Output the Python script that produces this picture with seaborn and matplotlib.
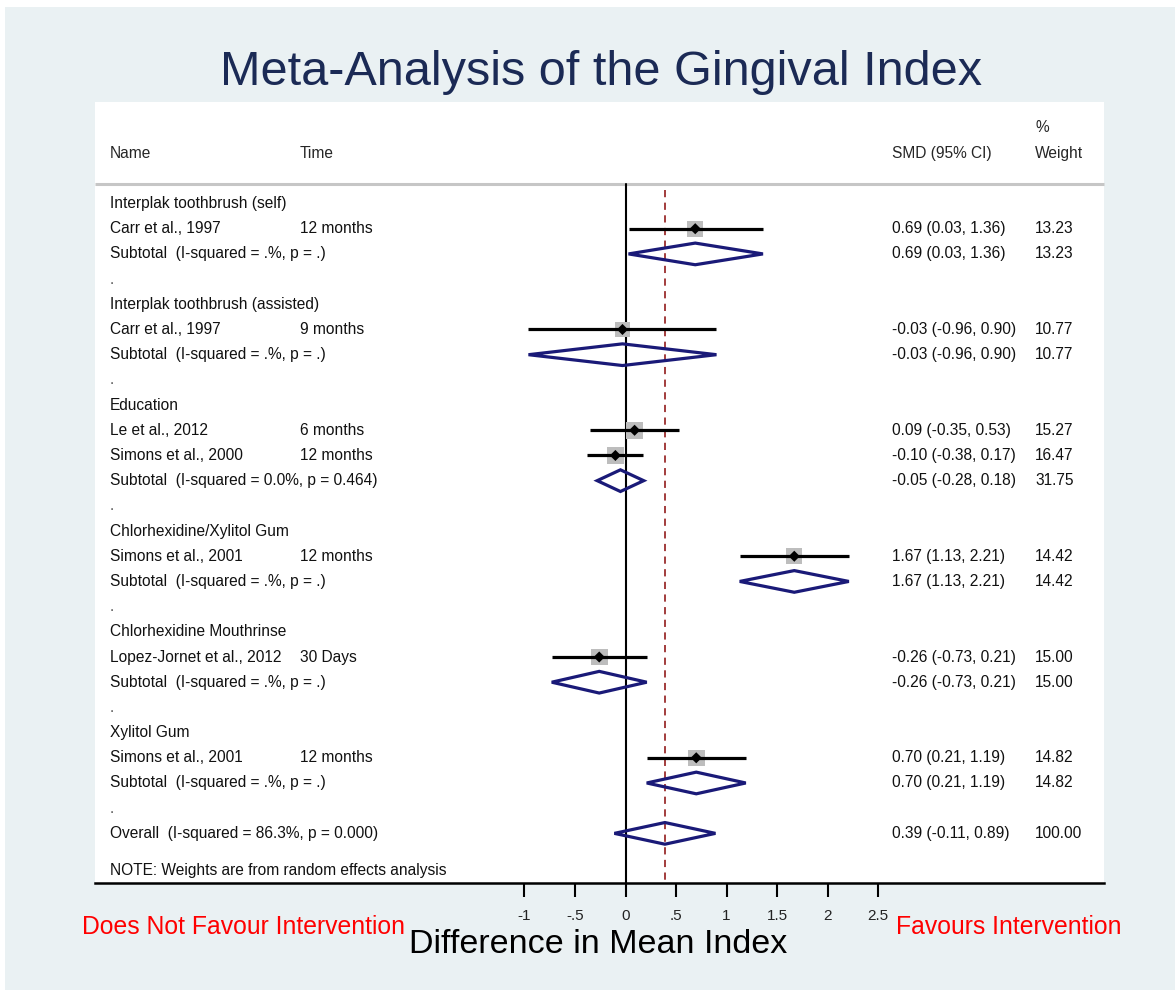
import numpy as np
import pandas as pd
import matplotlib
matplotlib.use("Agg")
import matplotlib.pyplot as plt
import seaborn as sns
from matplotlib.patches import Polygon, Rectangle

nan = np.nan

# ---------------- data ----------------
row_names = [
    "Interplak toothbrush (self)", "Carr et al., 1997", "Subtotal  (I-squared = .%, p = .)", ".",
    "Interplak toothbrush (assisted)", "Carr et al., 1997", "Subtotal  (I-squared = .%, p = .)", ".",
    "Education", "Le et al., 2012", "Simons et al., 2000", "Subtotal  (I-squared = 0.0%, p = 0.464)", ".",
    "Chlorhexidine/Xylitol Gum", "Simons et al., 2001", "Subtotal  (I-squared = .%, p = .)", ".",
    "Chlorhexidine Mouthrinse", "Lopez-Jornet et al., 2012", "Subtotal  (I-squared = .%, p = .)", ".",
    "Xylitol Gum", "Simons et al., 2001", "Subtotal  (I-squared = .%, p = .)", ".",
    "Overall  (I-squared = 86.3%, p = 0.000)",
]
row_times = [
    "", "12 months", "", "",
    "", "9 months", "", "",
    "", "6 months", "12 months", "", "",
    "", "12 months", "", "",
    "", "30 Days", "", "",
    "", "12 months", "", "",
    "",
]
row_kinds = [
    "group", "study", "subtotal", "spacer",
    "group", "study", "subtotal", "spacer",
    "group", "study", "study", "subtotal", "spacer",
    "group", "study", "subtotal", "spacer",
    "group", "study", "subtotal", "spacer",
    "group", "study", "subtotal", "spacer",
    "overall",
]
smd = [nan, 0.69, 0.69, nan,
       nan, -0.03, -0.03, nan,
       nan, 0.09, -0.10, -0.05, nan,
       nan, 1.67, 1.67, nan,
       nan, -0.26, -0.26, nan,
       nan, 0.70, 0.70, nan,
       0.39]
ci_low = [nan, 0.03, 0.03, nan,
          nan, -0.96, -0.96, nan,
          nan, -0.35, -0.38, -0.28, nan,
          nan, 1.13, 1.13, nan,
          nan, -0.73, -0.73, nan,
          nan, 0.21, 0.21, nan,
          -0.11]
ci_high = [nan, 1.36, 1.36, nan,
           nan, 0.90, 0.90, nan,
           nan, 0.53, 0.17, 0.18, nan,
           nan, 2.21, 2.21, nan,
           nan, 0.21, 0.21, nan,
           nan, 1.19, 1.19, nan,
           0.89]
weights = [nan, 13.23, 13.23, nan,
           nan, 10.77, 10.77, nan,
           nan, 15.27, 16.47, 31.75, nan,
           nan, 14.42, 14.42, nan,
           nan, 15.00, 15.00, nan,
           nan, 14.82, 14.82, nan,
           100.00]
overall_effect = 0.39
tick_values = [-1, -0.5, 0, 0.5, 1, 1.5, 2, 2.5]
tick_labels = ["-1", "-.5", "0", ".5", "1", "1.5", "2", "2.5"]
header_cols = ["Name", "Time", "SMD (95% CI)", "Weight"]
title_text = "Meta-Analysis of the Gingival Index"
xlabel_text = "Difference in Mean Index"
left_note = "Does Not Favour Intervention"
right_note = "Favours Intervention"
footnote = "NOTE: Weights are from random effects analysis"

df = pd.DataFrame({
    "name": row_names, "time": row_times, "kind": row_kinds,
    "est": smd, "lo": ci_low, "hi": ci_high, "w": weights,
})
df["row"] = np.arange(len(df))
studies = df[df.kind == "study"]
pooled = df[df.kind.isin(["subtotal", "overall"])]

# ---------------- style ----------------
sns.set_theme(style="white")
plt.rcParams["font.family"] = ["Liberation Sans", "DejaVu Sans"]

W, H = 1175, 990
fig = plt.figure(figsize=(W / 100, H / 100), dpi=100, facecolor="white")

def fx(px):
    return px / W

def fy(py):
    return 1 - py / H

# light bluish graph region
fig.patches.append(Rectangle((fx(5), 0), 1 - fx(5), fy(7), transform=fig.transFigure,
                             facecolor="#eaf1f3", edgecolor="none", zorder=-10))

ax = fig.add_axes([fx(95), fy(883), fx(1104) - fx(95), (883 - 102) / H])
ax.set_facecolor("white")

x_left = (95 - 625.5) / 101.06
x_right = (1104 - 625.5) / 101.06
row_top = -4.03
row_bot = 26.97
ax.set_xlim(x_left, x_right)
ax.set_ylim(row_bot, row_top)

navy = "#1a1a78"
# header separator
header_row = -0.77
ax.plot([x_left, x_right], [header_row, header_row], color="#c6c6c6", lw=2.2,
        solid_capstyle="butt", zorder=1, clip_on=False)
# null line
ax.plot([0, 0], [header_row, row_bot], color="black", lw=1.5, zorder=2, clip_on=False)
# overall effect dashed line
ax.plot([overall_effect, overall_effect], [-0.52, row_bot], color="#9b2d2d", lw=1.3,
        dashes=(4, 3), zorder=2)

# CI lines for studies
for _, r in studies.iterrows():
    ax.plot([r.lo, r.hi], [r.row, r.row], color="black", lw=2.3,
            solid_capstyle="butt", zorder=4)

# weight squares (area proportional to weight)
sns.scatterplot(data=studies, x="est", y="row", size="w", sizes=(0, 20 * 9.6),
                size_norm=(0, 20), marker="s", color="#bdbdbd", edgecolor="none",
                legend=False, ax=ax, zorder=3)
# point estimates
sns.scatterplot(data=studies, x="est", y="row", marker="D", color="black", s=32,
                edgecolor="none", legend=False, ax=ax, zorder=5)

# pooled diamonds
dh = 0.43
for _, r in pooled.iterrows():
    poly = Polygon([(r.lo, r.row), (r.est, r.row - dh), (r.hi, r.row), (r.est, r.row + dh)],
                   closed=True, fill=False, edgecolor=navy, lw=2.3, zorder=6,
                   joinstyle="miter")
    ax.add_patch(poly)

# ---------------- table text ----------------
def xd(px):
    return (px - 625.5) / 101.06

fs = 11.2
x_name, x_time, x_ci, x_w = xd(110), xd(299.5), xd(892), xd(1035)
ax.text(x_name, -2.0, header_cols[0], fontsize=fs, va="center", ha="left")
ax.text(x_time, -2.0, header_cols[1], fontsize=fs, va="center", ha="left")
ax.text(x_ci, -2.0, header_cols[2], fontsize=fs, va="center", ha="left")
ax.text(x_w, -3.0, "%", fontsize=fs, va="center", ha="left")
ax.text(x_w, -2.0, header_cols[3], fontsize=fs, va="center", ha="left")

for _, r in df.iterrows():
    color = "#555555" if r.kind == "spacer" else "#111111"
    ax.text(x_name, r.row, r["name"], fontsize=fs, va="center", ha="left", color=color)
    if r.time:
        ax.text(x_time, r.row, r.time, fontsize=fs, va="center", ha="left", color="#111111")
    if not np.isnan(r.est):
        ax.text(x_ci, r.row, f"{r.est:.2f} ({r.lo:.2f}, {r.hi:.2f})", fontsize=fs,
                va="center", ha="left", color="#111111")
        ax.text(x_w, r.row, f"{r.w:.2f}", fontsize=fs, va="center", ha="left", color="#111111")

ax.text(x_name, 26.47, footnote, fontsize=fs, va="center", ha="left", color="#111111")

# ---------------- axes ----------------
for s in ["top", "left", "right"]:
    ax.spines[s].set_visible(False)
ax.spines["bottom"].set_color("black")
ax.spines["bottom"].set_linewidth(1.8)
ax.set_yticks([])
ax.set_xticks(tick_values)
ax.set_xticklabels(tick_labels)
ax.tick_params(axis="x", direction="out", length=10, width=1.5, color="black",
               labelsize=11, pad=8.5, labelcolor="#222222", bottom=True)
ax.set_ylabel("")
ax.set_xlabel(xlabel_text, fontsize=24.5, color="black")
ax.xaxis.set_label_coords((598.5 - 95) / (1104 - 95), (883 - 953) / (883 - 102))
ax.xaxis.label.set_va("baseline")

# ---------------- figure texts ----------------
fig.text(fx(601), fy(85), title_text, fontsize=35, color="#1b2a55", ha="center", va="baseline")
fig.text(fx(82), fy(934), left_note, fontsize=17.8, color="#ff0000", ha="left", va="baseline")
fig.text(fx(1122), fy(934), right_note, fontsize=17.8, color="#ff0000", ha="right", va="baseline")

fig.savefig("out.png", dpi=100, facecolor="white")
